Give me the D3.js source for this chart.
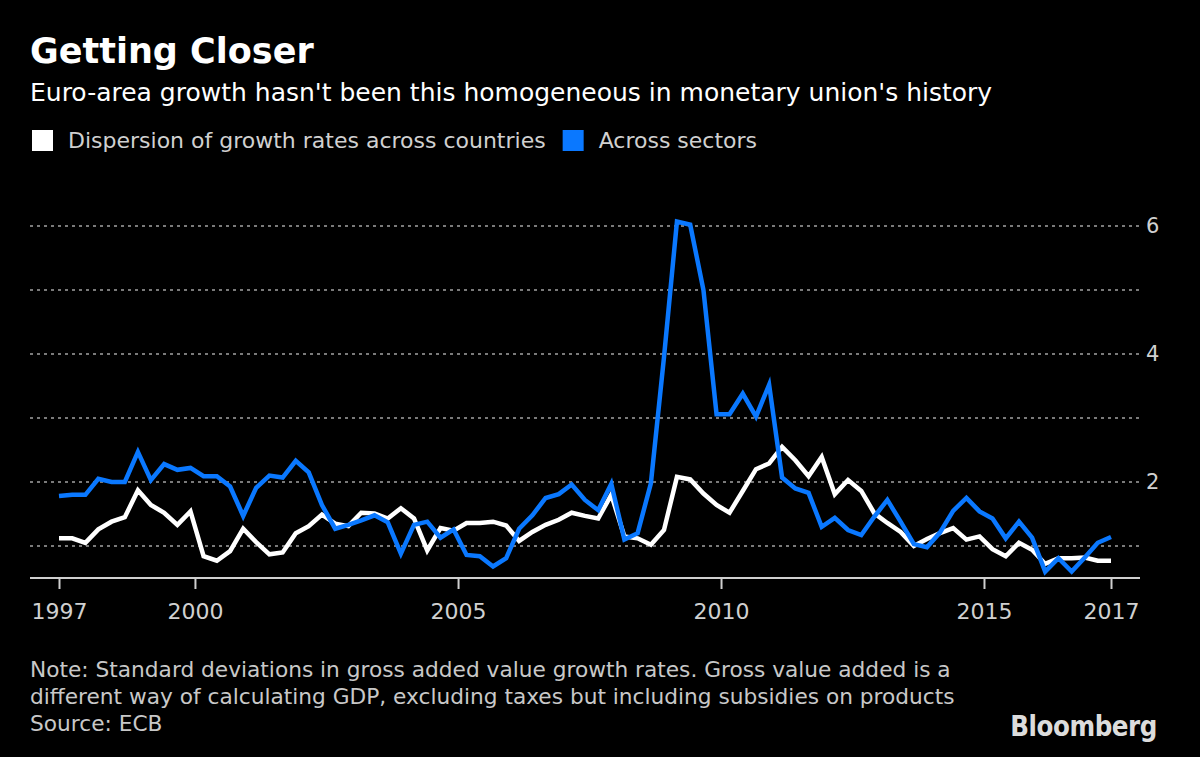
<!DOCTYPE html>
<html>
<head>
<meta charset="utf-8">
<script src="https://cdn.jsdelivr.net/npm/d3@7"></script>
<style>
  html, body { margin: 0; padding: 0; background: #000; }
  svg { display: block; }
  text { font-family: "DejaVu Sans", sans-serif; }
</style>
</head>
<body>
<svg id="chart" width="1200" height="757"></svg>
<script>
// ---------- DATA (quarterly, first and last observation labelled 1997 / 2017) ----------
const firstObservation = "1997-06-01";
const countries = [
  1.12, 1.12, 1.05, 1.26, 1.38, 1.45, 1.87, 1.64, 1.52, 1.33,
  1.54, 0.84, 0.77, 0.92, 1.27, 1.06, 0.87, 0.90, 1.20, 1.31,
  1.49, 1.35, 1.31, 1.52, 1.51, 1.43, 1.59, 1.43, 0.93, 1.28,
  1.24, 1.36, 1.36, 1.38, 1.32, 1.08, 1.22, 1.33, 1.41, 1.52,
  1.47, 1.43, 1.80, 1.15, 1.12, 1.02, 1.25, 2.08, 2.04, 1.82,
  1.64, 1.52, 1.86, 2.20, 2.29, 2.55, 2.34, 2.09, 2.39, 1.81,
  2.03, 1.86, 1.51, 1.36, 1.22, 1.00, 1.11, 1.20, 1.28, 1.10,
  1.15, 0.95, 0.84, 1.05, 0.94, 0.72, 0.81, 0.81, 0.82, 0.77,
  0.77
];
const sectors = [
  1.78, 1.80, 1.80, 2.05, 2.00, 2.00, 2.47, 2.03, 2.28, 2.19,
  2.22, 2.09, 2.09, 1.93, 1.47, 1.91, 2.10, 2.07, 2.33, 2.15,
  1.64, 1.27, 1.33, 1.40, 1.48, 1.37, 0.88, 1.33, 1.38, 1.13,
  1.26, 0.86, 0.84, 0.68, 0.81, 1.27, 1.48, 1.75, 1.81, 1.96,
  1.72, 1.56, 1.97, 1.10, 1.20, 1.98, 3.95, 6.07, 6.02, 5.00,
  3.06, 3.06, 3.38, 3.02, 3.52, 2.07, 1.90, 1.83, 1.30, 1.44,
  1.25, 1.17, 1.46, 1.72, 1.38, 1.03, 0.98, 1.21, 1.55, 1.75,
  1.54, 1.43, 1.12, 1.38, 1.13, 0.60, 0.81, 0.60, 0.82, 1.05,
  1.14
];
const tickYears = [1997, 2000, 2005, 2010, 2015, 2017];
const gridValues = [1, 2, 3, 4, 5, 6];
const yLabelValues = [2, 4, 6];
const seriesNames = ["Dispersion of growth rates across countries", "Across sectors"];
const seriesColors = ["#ffffff", "#0a78ff"];
const title = "Getting Closer";
const subtitle = "Euro-area growth hasn't been this homogeneous in monetary union's history";
const noteLines = [
  "Note: Standard deviations in gross added value growth rates. Gross value added is a",
  "different way of calculating GDP, excluding taxes but including subsidies on products",
  "Source: ECB"
];

// ---------- BUILD ----------
const parse = d3.timeParse("%Y-%m-%d");
const start = parse(firstObservation);
const dates = countries.map((_, i) => d3.timeMonth.offset(start, 3 * i));
const dataC = countries.map((v, i) => ({ date: dates[i], v }));
const dataS = sectors.map((v, i) => ({ date: dates[i], v }));

const svg = d3.select("#chart");
svg.append("rect").attr("width", 1200).attr("height", 757).attr("fill", "#000");

const x = d3.scaleTime().domain([dates[0], dates[dates.length - 1]]).range([59, 1111]);
const y = d3.scaleLinear().domain([0.5, 6]).range([578, 226]);

// titles
svg.append("text").attr("x", 30).attr("y", 63)
  .attr("fill", "#fff").attr("font-size", 35).attr("font-weight", "bold").text(title);
svg.append("text").attr("x", 30).attr("y", 101)
  .attr("fill", "#fff").attr("font-size", 25).text(subtitle);

// legend
const leg = svg.append("g");
let lx = 32;
seriesNames.forEach((name, i) => {
  leg.append("rect").attr("x", lx).attr("y", 130).attr("width", 21).attr("height", 21)
    .attr("fill", seriesColors[i]);
  const t = leg.append("text").attr("x", lx + 36).attr("y", 148)
    .attr("fill", "#d0d0d0").attr("font-size", 22).text(name);
  lx = lx + 36 + t.node().getComputedTextLength() + 17;
});

// gridlines
svg.append("g").selectAll("line").data(gridValues).join("line")
  .attr("x1", 30).attr("x2", 1140)
  .attr("y1", d => y(d)).attr("y2", d => y(d))
  .attr("stroke", "#7a7a7a").attr("stroke-width", 2).attr("stroke-dasharray", "3,4");

// right y labels
const yAxis = d3.axisRight(y).tickValues(yLabelValues).tickSize(0).tickPadding(0).tickFormat(d3.format("d"));
const gy = svg.append("g").attr("transform", "translate(1146,0)").call(yAxis);
gy.select(".domain").remove();
gy.selectAll("text").attr("fill", "#d0d0d0").attr("font-size", 21)
  .attr("font-family", "DejaVu Sans, sans-serif");

// x axis
const tickDates = tickYears.map((yr, i) => i === 0 ? dates[0] : (i === tickYears.length - 1 ? dates[dates.length - 1] : new Date(yr, 0, 1)));
const xAxis = d3.axisBottom(x).tickValues(tickDates).tickSize(11).tickPadding(14)
  .tickFormat((d, i) => String(tickYears[i]));
const gx = svg.append("g").attr("transform", "translate(0,578)").call(xAxis);
gx.select(".domain").remove();
gx.selectAll(".tick line").attr("stroke", "#cfcfcf").attr("stroke-width", 2);
gx.selectAll("text").attr("fill", "#d0d0d0").attr("font-size", 22)
  .attr("font-family", "DejaVu Sans, sans-serif");
svg.append("line").attr("x1", 30).attr("x2", 1140).attr("y1", 578).attr("y2", 578)
  .attr("stroke", "#cfcfcf").attr("stroke-width", 2);

// lines
const line = d3.line().x(d => x(d.date)).y(d => y(d.v));
svg.append("path").datum(dataC).attr("d", line)
  .attr("fill", "none").attr("stroke", seriesColors[0]).attr("stroke-width", 4.5)
  .attr("stroke-linejoin", "miter");
svg.append("path").datum(dataS).attr("d", line)
  .attr("fill", "none").attr("stroke", seriesColors[1]).attr("stroke-width", 4.5)
  .attr("stroke-linejoin", "miter");

// footer
svg.append("g").selectAll("text").data(noteLines).join("text")
  .attr("x", 30).attr("y", (d, i) => 677 + i * 27)
  .attr("fill", "#c8c8c8").attr("font-size", 21.7).text(d => d);
svg.append("text").attr("transform", "translate(1157,736) scale(0.88,1)").attr("text-anchor", "end")
  .attr("fill", "#dcdcdc").attr("font-size", 28).attr("font-weight", "bold")
  .attr("letter-spacing", "-0.5")
  .attr("font-family", "Liberation Sans, Arial, sans-serif").text("Bloomberg");
</script>
</body>
</html>
